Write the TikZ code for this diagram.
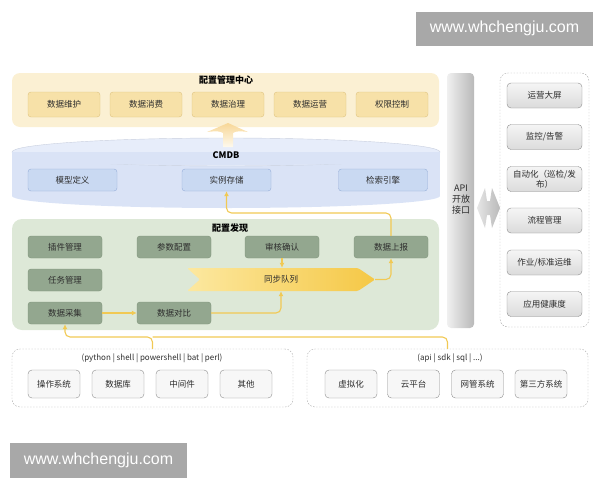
\documentclass[tikz,border=0pt]{standalone}
\usepackage{fontspec}
\setmainfont{Noto Sans CJK SC}
\newfontfamily\markfont{Liberation Sans}
\definecolor{CfgYellow}   {RGB}{251,240,211}
\definecolor{CfgYellowBox}{RGB}{247,225,168}
\definecolor{CfgYellowLn} {RGB}{222,194,126}
\definecolor{CmdbBlue}    {RGB}{218,227,246}
\definecolor{CmdbTop}     {RGB}{231,237,250}
\definecolor{CmdbBox}     {RGB}{201,217,242}
\definecolor{CmdbLn}      {RGB}{150,174,216}
\definecolor{FindGreen}   {RGB}{221,232,215}
\definecolor{FindBox}     {RGB}{147,167,143}
\definecolor{FindLn}      {RGB}{128,148,124}
\definecolor{FlowYellow}  {RGB}{241,201,84}
\definecolor{QueueLight}  {RGB}{252,232,160}
\definecolor{QueueDark}   {RGB}{245,200,70}
\definecolor{BoxGray}     {RGB}{140,140,140}
\definecolor{TextGray}    {RGB}{45,45,45}
\definecolor{MarkGray}    {RGB}{168,168,168}
\usetikzlibrary{arrows.meta,positioning,calc}

\begin{document}
\begin{tikzpicture}[x=1pt,y=-1pt,
  lbl/.style={font=\fontsize{8.5}{10}\selectfont,text=TextGray,inner sep=0pt},
  ttl/.style={font=\fontsize{9}{10}\selectfont\bfseries,text=black,inner sep=0pt},
  ybox/.style={lbl,draw=CfgYellowLn,fill=CfgYellowBox,rounded corners=3pt,
               minimum width=72pt,minimum height=25pt},
  bbox/.style={lbl,draw=CmdbLn,fill=CmdbBox,rounded corners=3pt,
               minimum width=89pt,minimum height=22pt},
  gbox/.style={lbl,draw=FindLn,fill=FindBox,rounded corners=3pt,
               minimum width=74pt,minimum height=22pt},
  srcbox/.style={lbl,draw=BoxGray,fill=gray!6,rounded corners=4pt,
                 minimum width=52pt,minimum height=28pt},
  appbox/.style={lbl,draw=BoxGray,top color=gray!8,bottom color=gray!28,
                 rounded corners=4pt,minimum width=75pt,minimum height=25pt,
                 align=center},
  grp/.style={draw=gray!70,dash pattern=on 1.5pt off 1.5pt,rounded corners=8pt},
  flow/.style={draw=FlowYellow,line width=1.1pt,rounded corners=5pt,
               -{Latex[length=5pt,width=5pt]}},
  wmark/.style={fill=MarkGray,text=white,font=\markfont\fontsize{16}{18}\selectfont,
               inner sep=0pt}]
  \useasboundingbox (0,0) rectangle (600,480);
  % watermarks
  \node[wmark,minimum width=177pt,minimum height=34.5pt] (wmtop) at (504.5,28.75) {www.whchengju.com};
  \node[wmark,minimum width=177pt,minimum height=35pt] (wmbot) at (98.5,460.5) {www.whchengju.com};

  % config management centre
  \node[fill=CfgYellow,rounded corners=8pt,minimum width=427pt,minimum height=54pt] (center) at (225.5,100) {};
  \node[ttl] (centerttl) at (226,80) {配置管理中心};
  \node[ybox] (weihu)  at (64,104.5)  {数据维护};
  \node[ybox] (xiaofei) at (146,104.5) {数据消费};
  \node[ybox] (zhili)  at (228,104.5) {数据治理};
  \node[ybox] (yunying) at (310,104.5) {数据运营};
  \node[ybox] (quanxian) at (392,104.5) {权限控制};

  % CMDB cylinder
  \fill[CmdbBlue] (12,152) rectangle (440,196);
  \fill[CmdbBlue] (226,196) ellipse [x radius=214pt,y radius=12pt];
  \fill[CmdbTop,draw=CmdbBlue!80!gray] (226,152) ellipse [x radius=214pt,y radius=14pt];
  \fill[CmdbBlue] (12,152) rectangle (440,160);
  \fill[CmdbBlue] (226,160) ellipse [x radius=214pt,y radius=5pt];
  \node[ttl] (cmdbttl) at (226,155) {CMDB};
  \node[bbox] (moxing) at (72.5,180)  {模型定义};
  \node[bbox] (cunchu) at (226.5,180) {实例存储};
  \node[bbox] (jiansuo) at (383,180)  {检索引擎};
  % block arrow up to governance
  \shade[top color=CfgYellowBox!90!orange,bottom color=CfgYellow!40]
    (228,123) -- (248,132) .. controls (240,131) and (236,131) .. (233,133)
    -- (233,147) -- (223,147) -- (223,133) .. controls (220,131) and (216,131) .. (207,132) -- cycle;

  % configuration discovery
  \node[fill=FindGreen,rounded corners=10pt,minimum width=427pt,minimum height=111pt] (find) at (225.5,274.5) {};
  \node[ttl] (findttl) at (230,228) {配置发现};
  \node[gbox] (chajian) at (65,247)  {插件管理};
  \node[gbox] (canshu)  at (174,247) {参数配置};
  \node[gbox] (shenhe)  at (282,247) {审核确认};
  \node[gbox] (shangbao) at (391,247) {数据上报};
  \node[gbox] (renwu)   at (65,280)  {任务管理};
  \node[gbox] (caiji)   at (65,313)  {数据采集};
  \node[gbox] (duibi)   at (174,313) {数据对比};
  % sync queue
  \shade[left color=QueueLight,right color=QueueDark,rounded corners=1.5pt]
    (187,268) -- (358,268) -- (375,279.5) -- (358,291) -- (187,291) -- (200,279.5) -- cycle;
  \node[lbl,minimum width=188pt,minimum height=23pt] (queue) at (281,279.5) {同步队列};

  \coordinate (upturn) at (391,213);
  \draw[flow] (caiji) -- (duibi);
  \draw[flow] (duibi.east) -| (queue.south);
  \draw[flow] (shenhe.south) -- (shenhe.south |- queue.north);
  \draw[flow] (queue.east) -| (shangbao.south);
  \draw[flow] (shangbao.north) -- (upturn) -| (cunchu.south);

  % sources
  \node[grp,minimum width=281pt,minimum height=58pt] (leftgrp) at (152.5,378) {};
  \node[grp,minimum width=281pt,minimum height=58pt] (rightgrp) at (447.5,378) {};
  \node[lbl,font=\fontsize{8}{9}\selectfont] (leftttl) at (152,358) {(python | shell | powershell | bat | perl)};
  \node[lbl,font=\fontsize{8}{9}\selectfont] (rightttl) at (450,358) {(api | sdk | sql | ...)};
  \node[srcbox] (os)     at (54,384)    {操作系统};
  \node[srcbox] (db)     at (118,384)   {数据库};
  \node[srcbox] (mw)     at (182,384)   {中间件};
  \node[srcbox] (other)  at (246,384)   {其他};
  \node[srcbox] (virt)   at (351,384)   {虚拟化};
  \node[srcbox] (cloud)  at (413.5,384) {云平台};
  \node[srcbox] (netmgr) at (477.5,384) {网管系统};
  \node[srcbox] (third)  at (541,384)   {第三方系统};
  \coordinate (bus) at (152.5,337);
  \draw[flow] (leftgrp.north) -- (bus) -| (caiji.south);
  \draw[draw=FlowYellow,line width=1.1pt,rounded corners=5pt] (rightgrp.north) |- (bus);

  % API bar
  \node[left color=gray!12,right color=gray!55,rounded corners=4pt,
        minimum width=27pt,minimum height=255pt] (api) at (460.5,200.5) {};
  \node[lbl,align=center,font=\fontsize{9}{11}\selectfont] (apittl) at (461,200) {API\\开放\\接口};
  \shade[left color=gray!20,right color=gray!55]
    (477,208) -- (485,188) -- (487,201) -- (490,201) -- (492,188) -- (500,208)
    -- (492,228) -- (490,215) -- (487,215) -- (485,228) -- cycle;

  % applications
  \node[grp,minimum width=89pt,minimum height=254pt] (apps) at (544.5,200) {};
  \node[appbox] (dapin)   at (544.5,95.5)  {运营大屏};
  \node[appbox] (jiankong) at (544.5,137)  {监控/告警};
  \node[appbox] (zidong)  at (544.5,179)   {自动化（巡检/发\\布）};
  \node[appbox] (liucheng) at (544.5,220.5) {流程管理};
  \node[appbox] (zuoye)   at (544.5,262.5) {作业/标准运维};
  \node[appbox] (jiankang) at (544.5,304)  {应用健康度};
\end{tikzpicture}
\end{document}
